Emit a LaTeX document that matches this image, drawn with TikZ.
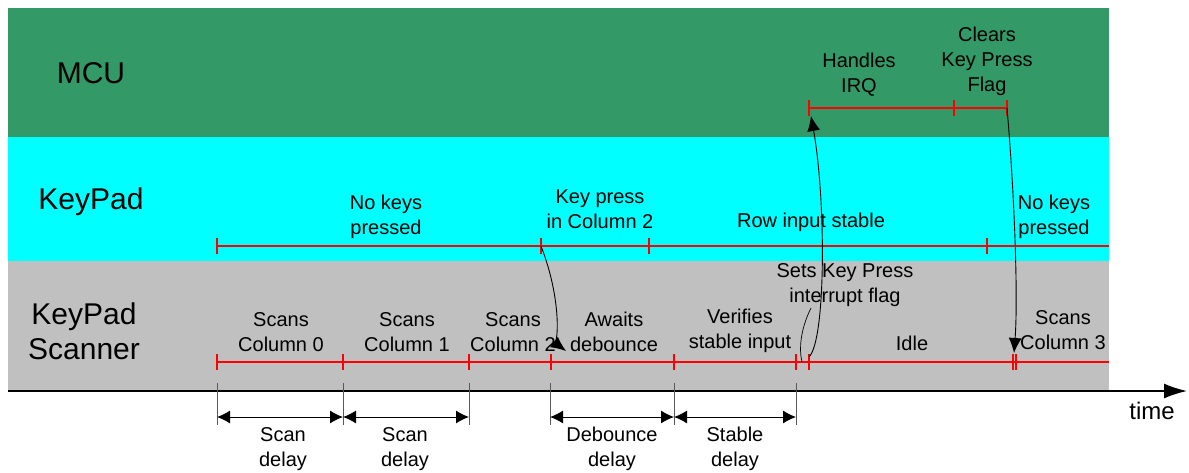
\documentclass[tikz,border=0pt]{standalone}
\usepackage{fontspec}
\setmainfont{Liberation Sans}
\usetikzlibrary{arrows.meta}
\definecolor{mcugreen}{RGB}{51,153,102}
\definecolor{padcyan}{RGB}{0,255,255}
\definecolor{scangray}{RGB}{192,192,192}
\tikzset{
    lbl/.style={align=center, font=\fontsize{20}{25}\selectfont, inner sep=0pt},
    biglbl/.style={align=center, font=\fontsize{30}{35}\selectfont, inner sep=0pt},
    tline/.style={red, line width=1.6pt},
    redtick/.style={red, line width=1.6pt},
    dimtick/.style={black!65, line width=0.9pt},
    dimarrow/.style={{Latex[length=13pt,width=13pt]}-{Latex[length=13pt,width=13pt]}, line width=1pt},
    ev/.style={-{Latex[length=15pt,width=13pt]}, line width=0.9pt},
}
\begin{document}
\begin{tikzpicture}[x=1pt, y=-1pt]
    \useasboundingbox (0,0) rectangle (1189,472);

    \fill[mcugreen] (8,8) rectangle (1109,137);
    \fill[padcyan] (8,137) rectangle (1109,261);
    \fill[scangray] (8,261) rectangle (1109,391);

    \node (mcu) [biglbl] at (91,73) {MCU};
    \node (pad) [biglbl] at (91,202) {KeyPad};
    \node (scan) [biglbl] at (84,331) {KeyPad\\Scanner};

    \draw[tline] (809,108) -- (1007,108);
    \draw[tline] (217,246) -- (1109,246);
    \draw[tline] (217,362) -- (1109,362);
    \foreach \x in {809,954,1007} \draw[redtick] (\x,100) -- (\x,116);
    \foreach \x in {217,541,649,987} \draw[redtick] (\x,238) -- (\x,254);
    \foreach \x in {217,343,469,551,674,796,809,1013,1016} \draw[redtick] (\x,354) -- (\x,370);

    \coordinate (irqTick) at (809,108);
    \coordinate (clrTick) at (1007,108);
    \coordinate (pressTick) at (541,246);
    \coordinate (flagTick) at (809,357);
    \coordinate (flagGap) at (802,362);
    \coordinate (debIn) at (566,351);
    \coordinate (irqIn) at (811,116);
    \coordinate (col3In) at (1014,353);

    \node (h) [lbl] at (859,75) {Handles\\IRQ};
    \node (c) [lbl] at (987,61) {Clears\\Key Press\\Flag};

    \node (nk1) [lbl] at (386,217) {No keys\\pressed};
    \node (kp) [lbl] at (600,209) {Key press\\in Column 2};
    \node (ris) [lbl] at (811,222) {Row input stable};
    \node (nk2) [lbl] at (1054,217) {No keys\\pressed};

    \node (s0) [lbl] at (281,332) {Scans\\Column 0};
    \node (s1) [lbl] at (407,332) {Scans\\Column 1};
    \node (s2) [lbl] at (513,332) {Scans\\Column 2};
    \node (aw) [lbl] at (614,332) {Awaits\\debounce};
    \node (vf) [lbl] at (740,331) {Verifies\\stable input};
    \node (sk) [lbl] at (845,285) {Sets Key Press\\interrupt flag};
    \node (idle) [lbl] at (912,343) {Idle};
    \node (s3) [lbl] at (1063,330) {Scans\\Column 3};

    \draw[ev] (pressTick) .. controls (562,300) and (558,345) .. (debIn);
    \draw[ev] (flagTick) .. controls (826,340) and (826,200) .. (irqIn);
    \draw[line width=0.7pt] (811,308) .. controls (800,330) and (799,350) .. (flagGap);
    \draw[ev] (clrTick) .. controls (1015,200) and (1018,300) .. (col3In);

    \coordinate (t0) at (8,391);
    \coordinate (tEnd) at (1187,391);
    \draw[line width=1.6pt, -{Latex[length=23pt,width=15pt]}] (t0) -- (tEnd);
    \node (time) [lbl, font=\fontsize{24}{28}\selectfont] at (1152,411) {time};

    \foreach \x in {217,343,469,550,674,796} \draw[dimtick] (\x,383) -- (\x,425);
    \coordinate (d0) at (217,417);
    \coordinate (d1) at (343,417);
    \coordinate (d2) at (469,417);
    \coordinate (d3) at (550,417);
    \coordinate (d4) at (674,417);
    \coordinate (d5) at (796,417);
    \draw[dimarrow] (d0) -- (d1);
    \draw[dimarrow] (d1) -- (d2);
    \draw[dimarrow] (d3) -- (d4);
    \draw[dimarrow] (d4) -- (d5);

    \node (sd0) [lbl] at (283,449) {Scan\\delay};
    \node (sd1) [lbl] at (405,449) {Scan\\delay};
    \node (dd) [lbl] at (612,449) {Debounce\\delay};
    \node (std) [lbl] at (735,449) {Stable\\delay};
\end{tikzpicture}
\end{document}
